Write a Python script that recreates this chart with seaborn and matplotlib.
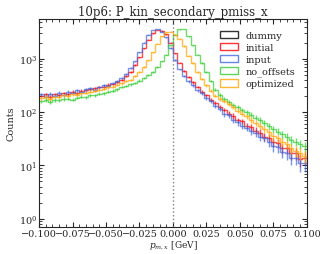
import numpy as np
import pandas as pd
import seaborn as sns
import matplotlib
matplotlib.use('Agg')
import matplotlib.pyplot as plt
from matplotlib.patches import Patch

# 60 bins between -0.1 and 0.1 GeV
edges = np.linspace(-0.1, 0.1, 61)
centers = 0.5 * (edges[:-1] + edges[1:])

input_counts = [214, 196, 221, 203, 232, 210, 243, 226, 255, 236, 266, 279, 259, 297, 318, 305,
                351, 378, 441, 520, 665, 890, 1320, 1990, 2820, 3460, 3630, 3240, 2510, 1590,
                955, 630, 480, 378, 318, 255, 226, 184, 160, 130, 114, 91, 87, 70, 64, 56, 51,
                44, 41, 34, 33, 27, 23, 22, 18, 17, 14, 14, 11, 11]
initial_counts = [204, 216, 193, 215, 205, 226, 217, 243, 227, 254, 256, 266, 280, 291, 300, 326,
                  337, 366, 405, 470, 572, 760, 1070, 1585, 2290, 3020, 3470, 3390, 2880, 2000,
                  1260, 850, 600, 458, 362, 297, 243, 206, 172, 150, 124, 109, 93, 85, 70, 67,
                  56, 52, 45, 41, 34, 33, 27, 26, 21, 21, 17, 17, 13, 14]
optimized_counts = [182, 192, 177, 196, 190, 205, 199, 215, 213, 226, 233, 242, 250, 265, 273, 290,
                    300, 327, 345, 383, 398, 468, 562, 708, 933, 1318, 1905, 2630, 3162, 3236,
                    2818, 2399, 1738, 1148, 832, 562, 417, 316, 251, 204, 178, 158, 141, 123, 107,
                    93, 83, 72, 63, 55, 48, 42, 35, 32, 28, 25, 21, 19, 17, 15]
no_offsets_counts = [158, 167, 154, 171, 165, 175, 179, 172, 187, 196, 190, 205, 208, 220, 228, 241,
                     250, 268, 295, 309, 331, 355, 389, 437, 490, 562, 708, 891, 1202, 1778, 2818,
                     3548, 3631, 2630, 1778, 1202, 832, 562, 380, 263, 209, 178, 155, 138, 123, 110,
                     100, 89, 79, 71, 63, 56, 48, 43, 38, 34, 30, 28, 25, 23]

names = ['dummy', 'initial', 'input', 'no_offsets', 'optimized']
colors = ['black', '#ff0000', '#4169e1', '#32cd32', '#ffa500']
series = {'initial': initial_counts, 'input': input_counts,
          'no_offsets': no_offsets_counts, 'optimized': optimized_counts}

sns.set_style('ticks')
plt.rcParams['font.family'] = ['DejaVu Serif']
plt.rcParams['mathtext.fontset'] = 'dejavuserif'

fig = plt.figure(figsize=(3.2, 2.55), dpi=100)
ax = fig.add_axes([0.122, 0.106, 0.837, 0.816])

for name, color in zip(names, colors):
    if name not in series:
        continue
    df = pd.DataFrame({'x': centers, 'w': np.array(series[name], dtype=float)})
    sns.histplot(data=df, x='x', weights='w', bins=len(centers), binrange=(-0.1, 0.1),
                 element='step', fill=False, color=color, alpha=0.7, linewidth=1.0, ax=ax)
    ax.errorbar(df['x'], df['w'], yerr=np.sqrt(df['w']), fmt='none', ecolor=color,
                alpha=0.7, elinewidth=1.0)

ax.axvline(0, color='gray', ls=':', lw=1)
ax.set_yscale('log')
ax.set_xlim(-0.1, 0.1)
ax.set_ylim(0.7, 5600)
ax.set_xticks(np.arange(-0.1, 0.1001, 0.025))
ax.xaxis.set_minor_locator(matplotlib.ticker.MultipleLocator(0.005))
ax.tick_params(which='both', direction='in', top=True, right=True, labelsize=7, pad=1.5)
ax.tick_params(which='major', length=3.5)
ax.tick_params(which='minor', length=2)

ax.set_title('10p6: P_kin_secondary_pmiss_x', fontsize=8.5, pad=3)
ax.set_xlabel(r'$p_{m, x}$ [GeV]', fontsize=6.5, labelpad=0.5)
ax.set_ylabel('Counts', fontsize=7, labelpad=2)

handles = [Patch(facecolor='none', edgecolor=c, alpha=0.8) for c in colors]
ax.legend(handles, names, loc='upper right', frameon=False, fontsize=7,
          handlelength=1.8, handleheight=0.8, labelspacing=0.3, borderaxespad=0.8)

fig.savefig('out.png', dpi=100)
